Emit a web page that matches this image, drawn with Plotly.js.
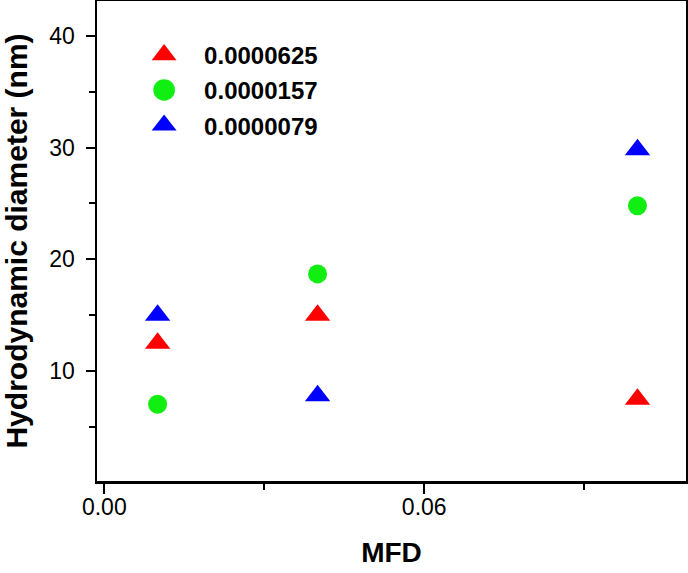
<!DOCTYPE html>
<html>
<head>
<meta charset="utf-8">
<script src="https://cdn.plot.ly/plotly-3.0.1.min.js"></script>
<style>html,body{margin:0;padding:0;background:#fff;}#chart{width:688px;height:573px;}</style>
</head>
<body>
<div id="chart"></div>
<script>
var mfd = [0.01, 0.04, 0.1];
var seriesNames = ["0.0000625", "0.0000157", "0.0000079"];
var diam0000625 = [12.5, 15.0, 7.5];
var diam0000157 = [7.05, 18.7, 24.8];
var diam0000079 = [15.0, 7.8, 29.8];
var xTickVals = [0.00, 0.06];
var yTickVals = [10, 20, 30, 40];

var pad = '\u00a0\u00a0\u00a0';
var traces = [
  {x: mfd, y: diam0000625, name: pad + seriesNames[0], type: 'scatter', mode: 'markers', legendgroup: 'a',
   marker: {symbol: 'triangle-up', size: 22, color: '#ff0000'}},
  {x: mfd, y: diam0000157, name: pad + seriesNames[1], type: 'scatter', mode: 'markers', legendgroup: 'b',
   marker: {symbol: 'circle', size: 19, color: '#11ee11'}},
  {x: mfd, y: diam0000079, name: pad + seriesNames[2], type: 'scatter', mode: 'markers', legendgroup: 'c',
   marker: {symbol: 'triangle-up', size: 22, color: '#0000ff'}}
];

var layout = {
  width: 688, height: 573,
  margin: {l: 97, r: 2, t: 1, b: 92},
  paper_bgcolor: '#fff', plot_bgcolor: '#fff',
  font: {family: 'Liberation Sans, Arial, sans-serif', color: '#000', size: 23},
  showlegend: true,
  legend: {x: 0.08, y: 0.934, xanchor: 'left', yanchor: 'top', bgcolor: 'rgba(0,0,0,0)',
           font: {size: 24, family: 'Liberation Sans, Arial, sans-serif', weight: 'bold', color: '#000'},
           traceorder: 'grouped', tracegroupgap: 1},
  xaxis: {
    range: [-0.00137, 0.1091], tickvals: xTickVals, tickformat: '.2f', automargin: false,
    showgrid: false, zeroline: false, showline: true, mirror: true, linewidth: 2.5, linecolor: '#000',
    ticks: 'outside', ticklen: 10, tickwidth: 2, tickcolor: '#000', ticklabelstandoff: -6,
    minor: {dtick: 0.03, tick0: 0, ticks: 'outside', ticklen: 6, tickwidth: 2, tickcolor: '#000', showgrid: false},
    tickfont: {size: 23},
    title: {text: 'MFD', font: {size: 28, weight: 'bold'}, standoff: 24}
  },
  yaxis: {
    range: [0.18, 43.1], tickvals: yTickVals, automargin: false,
    showgrid: false, zeroline: false, showline: true, mirror: true, linewidth: 2.5, linecolor: '#000',
    ticks: 'outside', ticklen: 9, tickwidth: 2, tickcolor: '#000', ticklabelstandoff: 6,
    minor: {dtick: 5, tick0: 0, ticks: 'outside', ticklen: 6, tickwidth: 2, tickcolor: '#000', showgrid: false},
    tickfont: {size: 23},
    title: {text: 'Hydrodynamic diameter (nm)', font: {size: 30, weight: 'bold'}, standoff: 26}
  }
};

Plotly.newPlot('chart', traces, layout, {displayModeBar: false, staticPlot: true}).then(function (gd) {
  // enlarge legend symbols to match the plotted marker size (Plotly caps them at 16px)
  gd.querySelectorAll('.legend .legendpoints path.scatterpts').forEach(function (p) {
    var t = p.getAttribute('transform') || '';
    p.setAttribute('transform', t + ' scale(1.35)');
  });
});
</script>
</body>
</html>
